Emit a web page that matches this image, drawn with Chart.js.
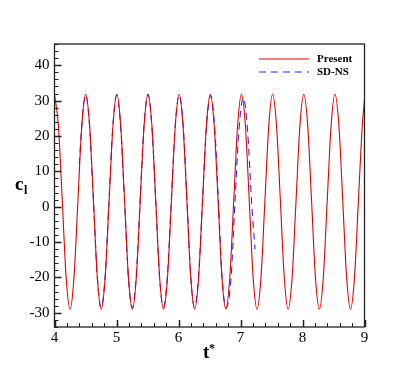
<!DOCTYPE html>
<html>
<head>
<meta charset="utf-8">
<script src="https://cdn.jsdelivr.net/npm/chart.js@4"></script>
<style>
  html, body { margin: 0; padding: 0; background: #fff; }
  #wrap { width: 415px; height: 369px; }
</style>
</head>
<body>
<div id="wrap"><canvas id="clChart" width="415" height="369"></canvas></div>
<script>
// values (t* and lift coefficient)
const tPresent = [
  4.000, 4.063, 4.126, 4.188, 4.251, 4.314, 4.377, 4.440,
  4.503, 4.566, 4.629, 4.691, 4.754, 4.817, 4.880, 4.943,
  5.005, 5.068, 5.131, 5.193, 5.256, 5.319, 5.382, 5.445,
  5.508, 5.571, 5.634, 5.696, 5.759, 5.822, 5.885, 5.948,
  6.010, 6.073, 6.136, 6.198, 6.261, 6.324, 6.387, 6.450,
  6.513, 6.576, 6.639, 6.701, 6.764, 6.827, 6.890, 6.953,
  7.016, 7.079, 7.142, 7.204, 7.267, 7.330, 7.393, 7.456,
  7.518, 7.581, 7.644, 7.706, 7.769, 7.832, 7.895, 7.958,
  8.021, 8.084, 8.147, 8.209, 8.272, 8.335, 8.398, 8.461,
  8.524, 8.587, 8.650, 8.712, 8.775, 8.838, 8.901, 8.964,
  9.000
];
const clPresent = [
  31.8, 22.9, 1.4, -20.1, -29.0, -20.1, 1.4, 22.9,
  31.8, 22.9, 1.4, -20.1, -29.0, -20.1, 1.4, 22.9,
  31.8, 22.9, 1.4, -20.1, -29.0, -20.1, 1.4, 22.9,
  31.8, 22.9, 1.4, -20.1, -29.0, -20.1, 1.4, 22.9,
  31.8, 22.9, 1.4, -20.1, -29.0, -20.1, 1.4, 22.9,
  31.8, 22.9, 1.4, -20.1, -29.0, -20.1, 1.4, 22.9,
  31.8, 22.9, 1.4, -20.1, -29.0, -20.1, 1.4, 22.9,
  31.8, 22.9, 1.4, -20.1, -29.0, -20.1, 1.4, 22.9,
  31.8, 22.9, 1.4, -20.1, -29.0, -20.1, 1.4, 22.9,
  31.8, 22.9, 1.4, -20.1, -29.0, -20.1, 1.4, 22.9,
  30.3
];
const tSdns = [
  4.400, 4.440,
  4.503, 4.566, 4.629, 4.691, 4.752, 4.815, 4.878, 4.941,
  5.004, 5.067, 5.130, 5.192, 5.254, 5.317, 5.380, 5.443,
  5.507, 5.570, 5.633, 5.695, 5.756, 5.819, 5.883, 5.947,
  6.012, 6.076, 6.138, 6.199, 6.258, 6.322, 6.387, 6.452,
  6.518, 6.583, 6.645, 6.703, 6.770, 6.848, 6.910, 6.976,
  7.045, 7.112, 7.180, 7.234
];
const clSdns = [
  12.0, 22.9,
  31.6, 22.8, 1.4, -20.0, -28.6, -20.0, 1.4, 22.8,
  31.6, 22.8, 1.4, -20.0, -28.6, -20.0, 1.4, 22.8,
  31.8, 22.8, 1.4, -20.0, -28.4, -20.0, 1.4, 22.8,
  31.6, 22.8, 1.4, -20.0, -28.4, -20.0, 1.4, 22.8,
  31.4, 22.6, 1.4, -20.0, -28.6, -20.0, 1.0, 22.0,
  30.8, 22.0, 1.0, -12.0
];
const xTicks = [4, 5, 6, 7, 8, 9];
const yTicks = [-30, -20, -10, 0, 10, 20, 30, 40];
const seriesNames = ["Present", "SD-NS"];

const toPoints = (xs, ys) => xs.map((x, i) => ({ x: x, y: ys[i] }));

// frame, inward ticks, legend and axis titles
const decorations = {
  id: "decorations",
  afterDraw(chart) {
    const ctx = chart.ctx;
    const a = chart.chartArea;
    const xs = chart.scales.x, ys = chart.scales.y;
    ctx.save();
    ctx.strokeStyle = "#222";
    ctx.lineWidth = 1;

    // minor ticks
    ctx.beginPath();
    for (let v = xs.min; v <= xs.max + 1e-9; v += 0.2) {
      const px = Math.round(xs.getPixelForValue(v)) + 0.5;
      ctx.moveTo(px, a.bottom); ctx.lineTo(px, a.bottom - 4);
    }
    for (let v = -34; v <= ys.max + 1e-9; v += 2) {
      const py = Math.round(ys.getPixelForValue(v)) + 0.5;
      ctx.moveTo(a.left, py); ctx.lineTo(a.left + 4, py);
    }
    ctx.stroke();

    // major ticks
    ctx.lineWidth = 1.5;
    ctx.beginPath();
    xTicks.forEach(v => {
      const px = Math.round(xs.getPixelForValue(v)) + 0.5;
      ctx.moveTo(px, a.bottom); ctx.lineTo(px, a.bottom - 7);
    });
    yTicks.forEach(v => {
      const py = Math.round(ys.getPixelForValue(v)) + 0.5;
      ctx.moveTo(a.left, py); ctx.lineTo(a.left + 7, py);
    });
    ctx.stroke();

    // frame
    ctx.lineWidth = 1.3;
    ctx.strokeRect(a.left, a.top, a.right - a.left, a.bottom - a.top);

    // legend
    const ds = chart.data.datasets;
    const lx = 259, ly = [59, 72];
    ds.forEach((d, i) => {
      ctx.strokeStyle = d.borderColor;
      ctx.lineWidth = 1.2;
      ctx.setLineDash(d.borderDash || []);
      ctx.beginPath();
      ctx.moveTo(lx, ly[i]); ctx.lineTo(lx + 50, ly[i]);
      ctx.stroke();
      ctx.setLineDash([]);
      ctx.fillStyle = "#000";
      ctx.font = "bold 11px 'Liberation Serif'";
      ctx.textBaseline = "middle";
      ctx.textAlign = "left";
      ctx.fillText(d.label, lx + 58, ly[i]);
    });

    // axis titles
    ctx.fillStyle = "#000";
    ctx.textBaseline = "alphabetic";
    ctx.font = "bold 19px 'Liberation Serif'";
    ctx.fillText("t", 203, 358);
    ctx.font = "bold 12px 'Liberation Serif'";
    ctx.fillText("*", 209, 352);
    ctx.font = "bold 19px 'Liberation Serif'";
    ctx.fillText("c", 15, 190);
    ctx.font = "bold 12px 'Liberation Serif'";
    ctx.fillText("l", 24, 194);
    ctx.restore();
  }
};

new Chart(document.getElementById("clChart"), {
  type: "line",
  data: {
    datasets: [
      {
        label: seriesNames[0],
        data: toPoints(tPresent, clPresent),
        borderColor: "rgb(225, 0, 0)",
        borderWidth: 1.1,
        pointRadius: 0,
        cubicInterpolationMode: "monotone",
        fill: false
      },
      {
        label: seriesNames[1],
        data: toPoints(tSdns, clSdns),
        borderColor: "rgb(40, 40, 255)",
        borderWidth: 1.1,
        borderDash: [7, 5],
        pointRadius: 0,
        cubicInterpolationMode: "monotone",
        fill: false
      }
    ]
  },
  options: {
    responsive: false,
    animation: false,
    layout: { padding: { left: 0, right: 50.5, top: 44, bottom: 0 } },
    plugins: { legend: { display: false }, tooltip: { enabled: false } },
    scales: {
      x: {
        type: "linear",
        min: 4,
        max: 9,
        grid: { display: false, drawTicks: false },
        border: { display: false },
        afterBuildTicks: s => { s.ticks = xTicks.map(v => ({ value: v })); },
        afterFit: s => { s.height = 42; },
        ticks: {
          color: "#000",
          padding: 2,
          maxRotation: 0,
          font: { family: "'Liberation Serif'", size: 15 }
        }
      },
      y: {
        type: "linear",
        min: -34,
        max: 46,
        grid: { display: false, drawTicks: false },
        border: { display: false },
        afterBuildTicks: s => { s.ticks = yTicks.map(v => ({ value: v })); },
        afterFit: s => { s.width = 54.5; },
        ticks: {
          color: "#000",
          padding: 5,
          font: { family: "'Liberation Serif'", size: 15 }
        }
      }
    }
  },
  plugins: [decorations]
});
</script>
</body>
</html>
